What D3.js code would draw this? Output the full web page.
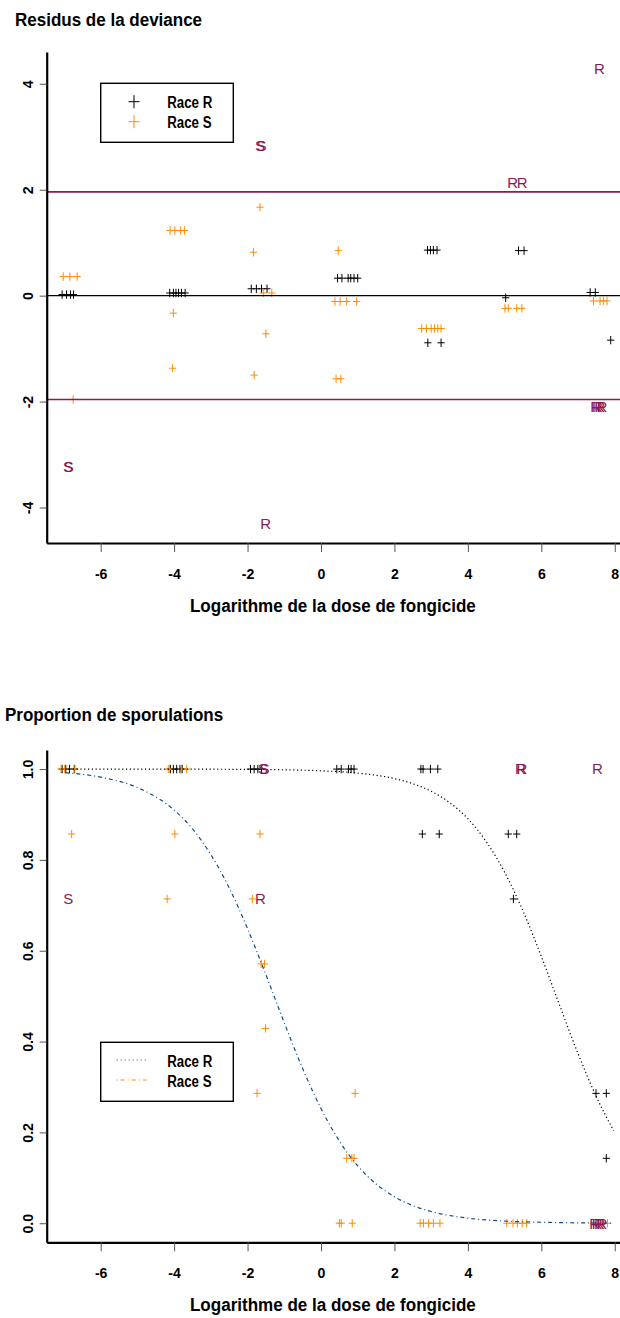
<!DOCTYPE html>
<html>
<head>
<meta charset="utf-8">
<script src="https://cdn.jsdelivr.net/npm/d3@7"></script>
<style>
  body { margin: 0; background: #fff; }
  svg text { font-family: "Liberation Sans", Arial, Helvetica, sans-serif; }
</style>
</head>
<body>
<svg id="chart" width="620" height="1318"></svg>
<script>
// ---- tick values and constants ----
const logDoseTicks = [-6, -4, -2, 0, 2, 4, 6, 8];
const residTicks = [-4, -2, 0, 2, 4];
const propTicks = [0, 0.2, 0.4, 0.6, 0.8, 1.0];
const residLimit = 1.96;
const raceNames = ["Race R", "Race S"];

// ---- deviance residuals (log dose, residual) ----
const residRaceR = [
  [-7.05, 0.02], [-6.93, 0.02], [-6.82, 0.02], [-6.74, 0.02],
  [-4.12, 0.05], [-4.02, 0.05], [-3.95, 0.05], [-3.88, 0.05], [-3.80, 0.05], [-3.70, 0.05],
  [-1.90, 0.13], [-1.76, 0.13], [-1.62, 0.13], [-1.47, 0.13],
  [0.45, 0.33], [0.57, 0.33], [0.74, 0.33], [0.81, 0.33], [0.90, 0.33], [1.00, 0.33],
  [2.90, 0.86], [2.98, 0.86], [3.06, 0.86], [3.16, 0.86],
  [2.91, -0.89], [3.27, -0.89],
  [5.38, 0.85], [5.53, 0.85], [5.03, -0.04],
  [7.33, 0.06], [7.47, 0.06], [7.89, -0.84]
];
const residRaceS = [
  [-7.02, 0.36], [-6.84, 0.36], [-6.64, 0.36], [-6.75, -1.96],
  [-4.11, 1.23], [-3.98, 1.23], [-3.82, 1.23], [-3.72, 1.23], [-4.02, -0.33], [-4.04, -1.37],
  [-1.66, 1.67], [-1.84, 0.82], [-1.57, 0.05], [-1.34, 0.05], [-1.50, -0.72], [-1.82, -1.50],
  [0.47, 0.85], [0.38, -0.11], [0.52, -0.11], [0.70, -0.11], [0.97, -0.11], [0.41, -1.57], [0.54, -1.57],
  [2.74, -0.62], [2.87, -0.62], [3.00, -0.62], [3.09, -0.62], [3.18, -0.62], [3.27, -0.62],
  [5.01, -0.24], [5.10, -0.24], [5.33, -0.24], [5.47, -0.24],
  [7.42, -0.10], [7.60, -0.10], [7.69, -0.10], [7.79, -0.10]
];
// observations beyond the 1.96 limit, flagged by race letter
const residFlags = [
  [7.58, 4.28, "R"], [5.22, 2.14, "R"], [5.48, 2.14, "R"],
  [-1.66, 2.84, "S"], [-1.62, 2.84, "S"],
  [-6.89, -3.23, "S"], [-6.87, -3.23, "S"],
  [-1.51, -4.31, "R"],
  [7.48, -2.10, "R"], [7.53, -2.10, "R"], [7.59, -2.10, "R"], [7.65, -2.10, "R"]
];

// ---- observed proportions of sporulation (log dose, proportion) ----
const propRaceR = [
  [-7.05, 1], [-6.95, 1], [-6.85, 1], [-6.72, 1],
  [-4.10, 1], [-4.02, 1], [-3.93, 1], [-3.84, 1], [-3.78, 1],
  [-1.92, 1], [-1.82, 1], [-1.72, 1], [-1.62, 1],
  [0.43, 1], [0.55, 1], [0.75, 1], [0.82, 1], [0.90, 1],
  [2.72, 1], [2.78, 1], [2.98, 1], [3.18, 1],
  [2.76, 0.857], [3.22, 0.857], [5.10, 0.857], [5.33, 0.857],
  [5.24, 0.714],
  [7.49, 0.286], [7.77, 0.286], [7.77, 0.143]
];
const propRaceS = [
  [-7.08, 1], [-6.98, 1], [-6.70, 1], [-4.16, 1], [-4.12, 1], [-3.80, 1], [-3.66, 1],
  [-6.79, 0.857], [-3.98, 0.857], [-1.66, 0.857],
  [-4.19, 0.714], [-1.87, 0.714],
  [-1.63, 0.571], [-1.54, 0.571],
  [-1.51, 0.429],
  [-1.74, 0.286], [0.93, 0.286],
  [0.70, 0.143], [0.84, 0.143], [0.90, 0.143],
  [0.50, 0], [0.55, 0], [0.85, 0],
  [2.70, 0], [2.79, 0], [2.93, 0], [3.06, 0], [3.24, 0],
  [5.06, 0], [5.23, 0], [5.35, 0], [5.48, 0], [5.60, 0],
  [7.42, 0], [7.55, 0], [7.68, 0], [7.80, 0]
];
const propFlags = [
  [-6.88, 0.714, "S"], [-1.58, 1, "S"], [-1.54, 1, "S"],
  [-1.65, 0.714, "R"],
  [5.43, 1, "R"], [5.47, 1, "R"], [7.53, 1, "R"],
  [7.45, 0, "R"], [7.52, 0, "R"], [7.58, 0, "R"], [7.65, 0, "R"]
];

// ---- fitted logistic curves (log dose, predicted proportion) ----
const fitRaceR = [
  [-7.07, 1.000], [-6, 1.000], [-4, 0.9999], [-2, 0.9993], [-1, 0.9984], [0, 0.9962],
  [1, 0.9911], [2, 0.9790], [2.5, 0.9677], [3, 0.9511], [3.5, 0.9263], [4, 0.8906],
  [4.5, 0.8402], [5, 0.7729], [5.5, 0.6878], [6, 0.5876], [6.5, 0.4796], [7, 0.3736],
  [7.5, 0.2783], [7.97, 0.2039]
];
const fitRaceS = [
  [-7.07, 0.9927], [-6, 0.9822], [-5, 0.9593], [-4, 0.9098], [-3.5, 0.8684], [-3, 0.8118],
  [-2.5, 0.7384], [-2, 0.6486], [-1.5, 0.5470], [-1, 0.4413], [-0.5, 0.3406], [0, 0.2526],
  [0.5, 0.1810], [1, 0.1263], [1.5, 0.0865], [2, 0.0582], [2.5, 0.0388], [3, 0.0258],
  [4, 0.0112], [5, 0.0048], [6, 0.0021], [7, 0.0009], [7.97, 0.0004]
];

// ---- drawing ----
const svg = d3.select("#chart");
const purple = "#8B1A55";
const orange = "#FF8C00";
const blue = "#104E8B";
const plotLeft = 46.7, plotRight = 621;

const x = d3.scaleLinear().domain([-7.47, 8.17]).range([plotLeft, plotRight]);

function plusPath(hw, hh) {
  return `M${-hw},0H${hw}M0,${-hh}V${hh}`;
}

function title(txt, tx, ty) {
  svg.append("text")
    .attr("transform", `translate(${tx},${ty}) scale(0.945,1)`)
    .attr("font-size", 18).attr("font-weight", "bold")
    .text(txt);
}

function drawAxes(y, top, bottom, yTicks, yFmt) {
  const xAxis = svg.append("g")
    .attr("transform", `translate(0,${bottom})`)
    .call(d3.axisBottom(x).tickValues(logDoseTicks).tickSize(9).tickSizeOuter(0)
      .tickFormat(d => String(d)));
  const yAxis = svg.append("g")
    .attr("transform", `translate(${plotLeft},0)`)
    .call(d3.axisLeft(y).tickValues(yTicks).tickSize(7).tickSizeOuter(0).tickFormat(yFmt));

  [xAxis, yAxis].forEach(g => {
    g.select(".domain").attr("stroke", "#000").attr("stroke-width", 2.2);
    g.selectAll(".tick line").attr("stroke", "#555").attr("stroke-width", 1);
    g.selectAll(".tick text")
      .attr("fill", "#000").attr("font-size", 15).attr("font-weight", "bold")
      .attr("font-family", '"Liberation Sans", Arial, sans-serif');
  });
  xAxis.selectAll(".tick text")
    .attr("y", 36).attr("dy", null)
    .attr("transform", "scale(0.94,1)");
  yAxis.selectAll(".tick text")
    .attr("x", null).attr("dy", null)
    .attr("text-anchor", "middle")
    .attr("transform", "translate(-18.7,0) rotate(-90) scale(0.94,1) translate(0,5.3)");

  svg.append("text")
    .attr("transform", `translate(${(plotLeft + plotRight) / 2 - 1},${bottom + 69}) scale(0.947,1)`)
    .attr("text-anchor", "middle")
    .attr("font-size", 18).attr("font-weight", "bold")
    .text("Logarithme de la dose de fongicide");
}

function drawPoints(y, data, color) {
  svg.append("g").selectAll("path").data(data).join("path")
    .attr("transform", d => `translate(${x(d[0])},${y(d[1])})`)
    .attr("d", plusPath(3.6, 4.2))
    .attr("stroke", color).attr("stroke-width", 1).attr("fill", "none");
}

function drawFlags(y, data) {
  svg.append("g").selectAll("text").data(data).join("text")
    .attr("x", d => x(d[0])).attr("y", d => y(d[1]))
    .attr("dy", "0.36em")
    .attr("text-anchor", "middle")
    .attr("font-family", '"Open Sans", "Noto Sans", sans-serif')
    .attr("font-size", 15)
    .attr("fill", purple)
    .text(d => d[2]);
}

function legendBox(top) {
  svg.append("rect")
    .attr("x", 100.7).attr("y", top).attr("width", 132.6).attr("height", 59)
    .attr("fill", "#fff").attr("stroke", "#000").attr("stroke-width", 1.4);
  raceNames.forEach((name, i) => {
    svg.append("text")
      .attr("transform", `translate(167.3,${top + 18.4 + i * 20}) scale(0.78,1)`)
      .attr("dy", "0.35em")
      .attr("font-size", 17).attr("font-weight", "bold")
      .text(name);
  });
}

// ===== Panel 1: deviance residuals =====
{
  const top = 52, bottom = 543;
  const y = d3.scaleLinear().domain([-4.67, 4.6]).range([bottom, top]);
  title("Residus de la deviance", 15, 26);

  drawPoints(y, residRaceR, "#000");
  drawPoints(y, residRaceS, orange);

  svg.append("line")
    .attr("x1", plotLeft).attr("x2", plotRight).attr("y1", y(0)).attr("y2", y(0))
    .attr("stroke", "#000").attr("stroke-width", 1.4);
  [residLimit, -residLimit].forEach(v => {
    svg.append("line")
      .attr("x1", plotLeft).attr("x2", plotRight).attr("y1", y(v)).attr("y2", y(v))
      .attr("stroke", purple).attr("stroke-width", 1.6);
  });

  drawFlags(y, residFlags);
  drawAxes(y, top, bottom, residTicks, d => String(d));

  legendBox(83.3);
  [["#000", 0], [orange, 1]].forEach(([c, i]) => {
    svg.append("path")
      .attr("transform", `translate(134,${101.7 + i * 20})`)
      .attr("d", plusPath(5.5, 6.5))
      .attr("stroke", c).attr("stroke-width", 1).attr("fill", "none");
  });
}

// ===== Panel 2: proportion of sporulation =====
{
  const top = 750, bottom = 1242.3;
  const y = d3.scaleLinear().domain([-0.042, 1.042]).range([bottom, top]);
  title("Proportion de sporulations", 5, 721);

  drawPoints(y, propRaceR, "#000");
  drawPoints(y, propRaceS, orange);

  const line = d3.line().x(d => x(d[0])).y(d => y(d[1])).curve(d3.curveMonotoneX);
  svg.append("path").datum(fitRaceR).attr("d", line)
    .attr("fill", "none").attr("stroke", "#000").attr("stroke-width", 1.2)
    .attr("stroke-dasharray", "1.2,2.6");
  svg.append("path").datum(fitRaceS).attr("d", line)
    .attr("fill", "none").attr("stroke", blue).attr("stroke-width", 1.2)
    .attr("stroke-dasharray", "1,3,4,3");

  drawFlags(y, propFlags);
  drawAxes(y, top, bottom, propTicks, d3.format(".1f"));

  legendBox(1042.3);
  svg.append("line").attr("x1", 116.7).attr("x2", 148.3).attr("y1", 1060).attr("y2", 1060)
    .attr("stroke", "#444").attr("stroke-width", 1).attr("stroke-dasharray", "1,3");
  svg.append("line").attr("x1", 116.7).attr("x2", 148.3).attr("y1", 1080).attr("y2", 1080)
    .attr("stroke", orange).attr("stroke-width", 1).attr("stroke-dasharray", "1,3,4,3");
}
</script>
</body>
</html>
